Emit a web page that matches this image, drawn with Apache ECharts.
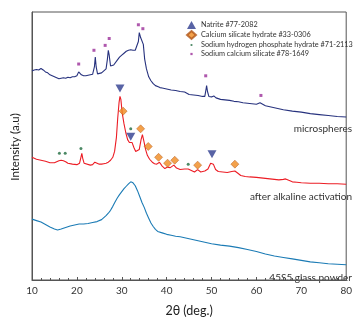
<!DOCTYPE html>
<html>
<head>
<meta charset="utf-8">
<script src="https://cdn.jsdelivr.net/npm/echarts@6/dist/echarts.min.js"></script>
<style>
  html, body { margin: 0; padding: 0; background: #fff; }
  #chart { width: 355px; height: 322px; }
</style>
</head>
<body>
<div id="chart"></div>
<script>
// 2-theta positions and intensities (a.u.)
const microX = [10, 10.5, 11, 11.5, 12, 12.5, 13, 13.5, 14, 14.5, 15, 15.5, 16, 16.5, 17, 17.5, 18, 18.5, 19, 19.5, 20, 20.4, 20.7, 21, 21.5, 22, 22.5, 23, 23.5, 23.9, 24.1, 24.3, 24.6, 25, 25.5, 26, 26.5, 26.8, 27, 27.2, 27.5, 27.8, 28.2, 28.6, 29, 29.5, 30, 30.5, 31, 31.5, 32, 32.5, 33, 33.4, 33.7, 33.9, 34.2, 34.5, 34.8, 35.1, 35.5, 36, 36.5, 37, 37.5, 38, 38.5, 39, 40, 41, 42, 43, 44, 45, 46, 47, 48, 48.5, 48.8, 48.9, 49.1, 49.4, 50, 50.5, 51, 52, 53, 54, 55, 56, 57, 58, 59, 60, 60.8, 61.2, 62, 63, 64, 66, 68, 70, 72, 74, 76, 78, 80];
const microY = [213, 214, 214.5, 214, 215.5, 214, 212, 211, 209, 208, 207, 206, 205, 205.5, 206, 205.5, 206.5, 206, 207, 207, 208, 212, 211.5, 209, 208, 208, 208.5, 209, 209.5, 217, 227, 217, 210, 210, 211, 213, 215, 225, 234, 229, 218, 217, 219, 221, 224, 227, 229, 231, 233, 234, 234.5, 234, 234, 233, 243, 252, 247, 249, 240, 225, 215, 207, 203, 200, 198, 197, 196, 195.5, 194.5, 193.5, 193, 192, 191.5, 189, 188.5, 188, 187, 187, 195, 198, 192, 187, 186.5, 187.5, 185.5, 184, 183.5, 183, 182, 181.5, 180.5, 180, 179.5, 179, 180.5, 179, 177.5, 176.5, 175.5, 173.5, 172, 171, 169.5, 168.5, 167.5, 166.5, 166];

const alkaliX = [10, 10.5, 11, 11.5, 12, 13, 14, 15, 15.5, 16, 16.5, 17, 17.5, 18, 19, 20, 20.6, 20.9, 21.1, 21.3, 21.6, 22, 23, 23.5, 24, 24.4, 25, 25.5, 26, 26.5, 27, 27.5, 28, 28.4, 28.8, 29.1, 29.4, 29.6, 29.8, 30.1, 30.5, 30.9, 31.3, 31.7, 32, 32.3, 32.7, 33.1, 33.5, 33.9, 34.3, 34.6, 34.9, 35.3, 35.7, 36.2, 36.8, 37.3, 37.8, 38.4, 39, 39.6, 40.2, 40.8, 41.6, 42.2, 43, 44, 44.8, 45.5, 46.2, 46.9, 47.6, 48.5, 49.2, 49.8, 50.1, 50.4, 50.9, 51.5, 52.5, 53.5, 54.5, 55.2, 55.8, 56.5, 57.5, 58.5, 60, 61, 62, 63, 64, 65, 66, 66.5, 67.2, 68, 69, 70, 72, 74, 76, 78, 80];
const alkaliY = [125, 124, 123, 122.5, 122, 121, 119.5, 119.5, 120.5, 121.5, 122, 121.5, 120.5, 119, 118, 117.5, 119, 125, 129, 124, 119, 117, 117, 117.5, 120, 119.5, 118, 118, 118.5, 119, 120, 122, 125, 131, 145, 165, 181, 187, 184, 170, 159, 150, 143, 140, 142, 140, 135, 131, 130, 133, 143, 148, 142, 133, 127, 123, 120, 118.5, 118, 120, 116, 113.5, 115, 114.5, 117, 114, 112.5, 113, 113, 111.5, 110, 112.5, 110, 111, 113, 119, 121, 118, 112.5, 110.5, 110, 109.5, 110.5, 111, 109, 106.5, 105.5, 105, 104.5, 104, 103.5, 103, 102.5, 102, 102.5, 103, 101.5, 100, 99.5, 99, 98.5, 98.5, 98, 98, 97.5];

const glassX = [10, 11, 12, 13, 14, 15, 15.7, 16.5, 17.5, 18.5, 19.5, 20.5, 21.5, 22.5, 23.5, 24.5, 25.5, 26.5, 27, 27.5, 28, 28.5, 29, 29.5, 30, 30.5, 31, 31.5, 32, 32.5, 33, 33.5, 34, 34.5, 35, 35.5, 36, 36.5, 37, 37.5, 38, 39, 40, 41, 42, 43, 44, 45, 46, 47, 48, 49, 50, 52, 54, 56, 58, 60, 62, 64, 66, 68, 70, 72, 74, 76, 78, 80];
const glassY = [62, 60.5, 59, 56.5, 54, 52, 51, 52, 53.5, 55, 56, 57, 57, 57.5, 58.5, 59.5, 61.5, 65.5, 68, 71, 75, 79.5, 83.5, 87, 90, 93, 95.5, 98, 100, 99, 96, 91, 85, 79, 74, 68, 63, 58, 54.5, 51.5, 49.5, 48, 46.5, 45.5, 44.5, 44, 43, 42, 41, 40, 39, 38, 37, 35.5, 34.5, 33, 31, 29, 26.5, 24.5, 23, 21.5, 20, 18.5, 17.5, 16.5, 16, 15.5];

// phase markers
const natriteX = [29.6, 32.0, 50.1];
const natriteY = [195, 146, 128];
const cshX = [30.3, 34.2, 35.9, 38.2, 40.2, 41.8, 46.9, 55.2];
const cshY = [172, 154, 136, 125, 119, 122, 117, 118];
const nahpX = [16.1, 17.4, 20.9, 32.0, 44.8];
const nahpY = [129, 129, 134, 154, 118];
const nacasiX = [20.4, 23.8, 26.3, 27.2, 33.7, 34.7, 48.7, 61.0];
const nacasiY = [220, 234, 239, 246, 260, 256, 208, 188];

const xTicks = [10, 20, 30, 40, 50, 60, 70, 80];

const phaseNames = [
  "Natrite #77-2082",
  "Calcium silicate hydrate #33-0306",
  "Sodium hydrogen phosphate hydrate #71-2113",
  "Sodium calcium silicate #78-1649",
];

const zip = (xs, ys) => xs.map((x, i) => [x, ys[i]]);

const font = "Lato, 'Open Sans', sans-serif";

const lineSeries = (name, xs, ys, color) => ({
  name,
  type: "line",
  data: zip(xs, ys),
  symbol: "none",
  silent: true,
  lineStyle: { color, width: 1.1 },
  z: 2,
});

const chart = echarts.init(document.getElementById("chart"));

chart.setOption({
  animation: false,
  textStyle: { fontFamily: font },
  grid: {
    left: 32, right: 1, top: 12, bottom: 37,
    show: true, borderColor: "#555", borderWidth: 1,
  },
  xAxis: {
    type: "value",
    min: xTicks[0],
    max: xTicks[xTicks.length - 1],
    interval: 10,
    name: "2θ (deg.)",
    nameLocation: "middle",
    nameGap: 24,
    nameTextStyle: { fontSize: 12.5, color: "#222", fontFamily: font },
    axisLine: { lineStyle: { color: "#555" } },
    axisTick: { inside: true, length: 3, lineStyle: { color: "#555" } },
    minorTick: { show: true, splitNumber: 5, length: 2, lineStyle: { color: "#555" } },
    axisLabel: { fontSize: 10, color: "#333", margin: 6, fontFamily: font },
    splitLine: { show: false },
  },
  yAxis: {
    type: "value",
    min: 0,
    max: 273,
    axisLine: { show: true, lineStyle: { color: "#555" } },
    axisTick: { show: false },
    axisLabel: { show: false },
    splitLine: { show: false },
  },
  legend: {
    orient: "vertical",
    left: 186,
    top: 21,
    padding: 0,
    itemWidth: 9,
    itemHeight: 8,
    itemGap: 1,
    textStyle: { fontSize: 7.3, color: "#333", fontFamily: font },
    data: [
      { name: phaseNames[0] },
      { name: phaseNames[1] },
      { name: phaseNames[2], icon: "path://M0,0M10,10M3.6,5a1.4,1.4 0 1,0 2.8,0a1.4,1.4 0 1,0 -2.8,0" },
      { name: phaseNames[3], icon: "path://M0,0M10,10M3.6,3.6h2.8v2.8h-2.8z" },
    ],
  },
  graphic: [
    {
      type: "text", x: 15, y: 147, rotation: Math.PI / 2,
      style: { text: "Intensity (a.u)", fontSize: 11.5, fill: "#222", fontFamily: font, align: "center", verticalAlign: "middle" },
    },
    {
      type: "text", x: 352, y: 129,
      style: { text: "microspheres", fontSize: 10, fill: "#333", fontFamily: font, align: "right", verticalAlign: "middle" },
    },
    {
      type: "text", x: 352, y: 197,
      style: { text: "after alkaline activation", fontSize: 10, fill: "#333", fontFamily: font, align: "right", verticalAlign: "middle" },
    },
    {
      type: "text", x: 352, y: 278,
      style: { text: "45S5 glass powder", fontSize: 10, fill: "#333", fontFamily: font, align: "right", verticalAlign: "middle" },
    },
  ],
  series: [
    lineSeries("microspheres", microX, microY, "#27327e"),
    lineSeries("after alkaline activation", alkaliX, alkaliY, "#ec1c24"),
    lineSeries("45S5 glass powder", glassX, glassY, "#1b7bb5"),
    {
      name: phaseNames[0], type: "scatter", data: zip(natriteX, natriteY),
      symbol: "triangle", symbolRotate: 180, symbolSize: [9, 8],
      itemStyle: { color: "#2e3c8f" }, z: 5,
    },
    {
      name: phaseNames[1], type: "scatter", data: zip(cshX, cshY),
      symbol: "diamond", symbolSize: 8,
      itemStyle: { color: "#f08a1e", borderColor: "#b0561a", borderWidth: 0.6 }, z: 5,
    },
    {
      name: phaseNames[2], type: "scatter", data: zip(nahpX, nahpY),
      symbol: "circle", symbolSize: 3,
      itemStyle: { color: "#1f6b3f" }, z: 5,
    },
    {
      name: phaseNames[3], type: "scatter", data: zip(nacasiX, nacasiY),
      symbol: "rect", symbolSize: 3,
      itemStyle: { color: "#9b2e98" }, z: 5,
    },
  ],
});
</script>
</body>
</html>
